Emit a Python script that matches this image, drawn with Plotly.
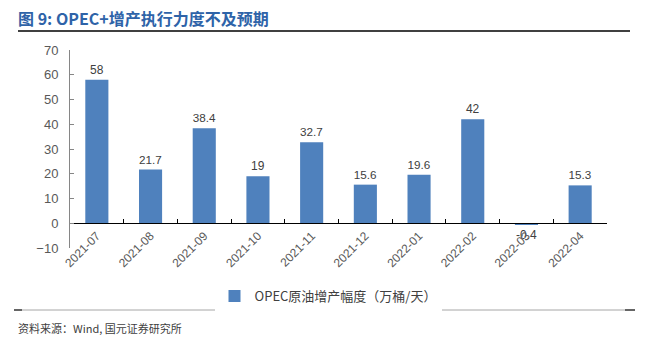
import plotly.graph_objects as go

months = ["2021-07", "2021-08", "2021-09", "2021-10", "2021-11",
          "2021-12", "2022-01", "2022-02", "2022-03", "2022-04"]
increase = [58, 21.7, 38.4, 19, 32.7, 15.6, 19.6, 42, -0.4, 15.3]
y_ticks = [-10, 0, 10, 20, 30, 40, 50, 60, 70]
series_name = "OPEC原油增产幅度（万桶/天）"
title_text = "图 9: OPEC+增产执行力度不及预期"
source_text = "资料来源：Wind, 国元证券研究所"

W, H = 649, 340
L, R, T, B = 70, 42, 50, 92
y_min, y_max = -10, 70
PW, PH = W - L - R, H - T - B

bar_blue = "#4F81BD"
font_latin = "Liberation Sans, Arial, Noto Sans CJK SC, sans-serif"
font_cjk = "Noto Sans CJK SC, Liberation Sans, sans-serif"


def px_x(px):
    return (px - L) / PW


def px_y(py):
    return (H - B - py) / PH


fig = go.Figure()
fig.add_trace(go.Bar(
    x=months, y=increase, name=series_name,
    marker=dict(color=bar_blue, line=dict(width=0)),
    text=[f"{v:g}" for v in increase], textposition="outside",
    textfont=dict(size=12, color="#404040", family=font_latin),
    cliponaxis=False,
    showlegend=True,
))

zero_frac = (0 - y_min) / (y_max - y_min)

fig.update_layout(
    width=W, height=H,
    margin=dict(l=L, r=R, t=T, b=B, autoexpand=False),
    paper_bgcolor="white", plot_bgcolor="white",
    bargap=0.57,
    xaxis=dict(
        type="category", anchor="free", position=zero_frac,
        showline=True, linecolor="#000000", linewidth=1,
        ticks="inside", ticklen=4, tickcolor="#000000",
        tickson="boundaries",
        tickangle=-45, tickfont=dict(size=12, color="#595959", family=font_latin),
        showgrid=False, zeroline=False, automargin=False,
    ),
    yaxis=dict(
        range=[y_min, y_max], tickvals=y_ticks,
        showline=True, linecolor="#868686", linewidth=1,
        ticks="inside", ticklen=4, tickcolor="#868686",
        tickfont=dict(size=13, color="#595959", family=font_latin),
        showgrid=False, zeroline=False, ticklabelstandoff=8,
        automargin=False,
    ),
    legend=dict(
        orientation="h", x=px_x(328), xanchor="center", y=px_y(296), yanchor="middle",
        font=dict(size=13, color="#404040", family=font_cjk),
        itemwidth=30,
    ),
    showlegend=True,
)

# Title and its rule
fig.add_annotation(
    text=f"<b>{title_text}</b>", xref="paper", yref="paper",
    x=px_x(16), xanchor="left", y=px_y(18), yanchor="middle",
    showarrow=False, font=dict(size=16, color="#2E63A8", family=font_cjk),
)
fig.add_shape(
    type="line", xref="paper", yref="paper",
    x0=px_x(18), x1=px_x(630), y0=px_y(31), y1=px_y(31),
    line=dict(color="#000000", width=1.5),
)

# Bottom rule with dark end marks
y_rule = px_y(310)
fig.add_shape(type="line", xref="paper", yref="paper",
              x0=px_x(14), x1=px_x(635), y0=y_rule, y1=y_rule,
              line=dict(color="#A6A6A6", width=1))
for a, b in [(14, 22), (625, 635)]:
    fig.add_shape(type="line", xref="paper", yref="paper",
                  x0=px_x(a), x1=px_x(b), y0=y_rule, y1=y_rule,
                  line=dict(color="#404040", width=1.5))

fig.add_annotation(
    text=source_text, xref="paper", yref="paper",
    x=px_x(16), xanchor="left", y=px_y(328), yanchor="middle",
    showarrow=False, font=dict(size=11, color="#404040", family=font_cjk),
)

fig.write_html("out.html")
